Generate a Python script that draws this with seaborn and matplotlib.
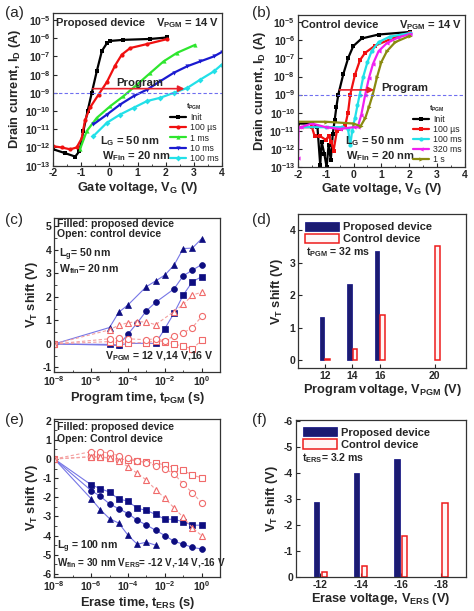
import numpy as np
import pandas as pd
import matplotlib
matplotlib.use('Agg')
import matplotlib.pyplot as plt
import seaborn as sns
from matplotlib.ticker import MultipleLocator, FixedLocator, NullFormatter

# ---------------- data ----------------
# (a) proposed device, Id-Vg after programming (log10 of current)
a_init_v = [-2.0, -1.6, -1.22, -1.07, -0.93, -0.78, -0.63, -0.45, -0.27, -0.09, 0.03, 0.5, 1.46, 2.05]
a_init_logI = [-12.1, -12.3, -12.5, -12.2, -11.1, -10.0, -9.0, -7.8, -6.7, -6.27, -6.15, -6.09, -6.04, -5.96]
a_100us_v = [-2.0, -1.7, -1.4, -1.17, -0.99, -0.87, -0.69, -0.39, -0.09, 0.2, 0.44, 0.74, 1.34, 2.05]
a_100us_logI = [-11.93, -12.0, -12.1, -12.0, -11.5, -10.5, -9.8, -9.1, -8.4, -7.5, -6.9, -6.54, -6.32, -6.05]
a_1ms_v = [-1.05, -0.81, -0.45, 0.03, 0.5, 0.98, 1.46, 1.93, 2.41, 3.06]
a_1ms_logI = [-12.1, -11.1, -10.37, -9.73, -9.18, -8.55, -7.9, -7.27, -6.8, -6.36]
a_10ms_v = [-0.57, -0.09, 0.38, 0.86, 1.34, 1.81, 2.29, 2.77, 3.24, 3.72, 4.0]
a_10ms_logI = [-10.73, -10.19, -9.64, -9.18, -8.82, -8.36, -7.9, -7.54, -7.27, -7.0, -6.76]
a_100ms_v = [-0.57, -0.09, 0.38, 0.86, 1.34, 1.81, 2.29, 2.77, 3.24, 3.72, 4.0]
a_100ms_logI = [-11.37, -10.64, -10.19, -9.82, -9.45, -9.27, -9.0, -8.73, -8.27, -7.82, -7.45]

# (b) control device
b_init_v = [-2.0, -1.5, -1.3, -1.2, -1.15, -1.05, -0.97, -0.9, -0.82, -0.75, -0.68, -0.62, -0.55,
            -0.37, -0.19, -0.01, 0.29, 0.9, 2.03]
b_init_logI = [-10.6, -10.6, -10.8, -12.9, -11.6, -12.3, -13.0, -11.8, -12.6, -11.2, -10.4, -9.7, -9.0,
               -7.87, -6.96, -6.32, -5.9, -5.68, -5.54]
b_100us_v = [-2.0, -1.5, -1.4, -1.2, -1.0, -0.9, -0.8, -0.72, -0.6, -0.45, -0.3, -0.2, -0.12,
             0.05, 0.23, 0.41, 0.77, 1.49, 2.03]
b_100us_logI = [-10.8, -10.8, -11.3, -11.3, -11.5, -11.3, -11.6, -12.1, -11.0, -10.9, -10.7, -10.0, -9.0,
                -7.9, -7.1, -6.7, -6.3, -5.83, -5.6]
b_100ms_v = [-2.0, -1.0, -0.4, -0.2, -0.12, -0.05, 0.05, 0.14, 0.22, 0.35, 0.5, 0.65, 0.9, 1.3, 2.03]
b_100ms_logI = [-10.8, -10.8, -10.8, -10.9, -11.8, -11.0, -10.3, -9.6, -9.0, -8.0, -7.2, -6.6, -6.1, -5.8, -5.6]
b_320ms_v = [-2.0, -1.98, -1.9, -1.5, -1.0, -0.5, 0.0, 0.15, 0.28, 0.42, 0.55, 0.7, 0.9, 1.2, 1.6, 2.03]
b_320ms_logI = [-12.5, -10.8, -10.8, -10.6, -10.8, -10.9, -10.8, -10.8, -10.1, -9.0, -8.1, -7.3, -6.6, -6.15, -5.85, -5.65]
b_1s_v = [-2.0, -1.0, 0.0, 0.25, 0.42, 0.55, 0.69, 0.85, 1.0, 1.2, 1.5, 2.03]
b_1s_logI = [-10.5, -10.5, -10.6, -10.75, -10.3, -9.7, -9.0, -8.0, -7.2, -6.6, -6.1, -5.75]

# (c) VT shift vs program time (log10 of time), NaN = no point
c_log_t = [-8, -5, -4.5, -4, -3.5, -3, -2.5, -2, -1.5, -1, -0.5, 0]
c_prop_12 = [0, -0.02, -0.05, 0.02, np.nan, 0.03, 0.02, 0.65, 1.31, 2.08, 2.65, 2.86]
c_prop_14 = [0, np.nan, -0.06, 0.42, 0.89, 1.41, 1.77, np.nan, 2.34, 2.9, 3.14, 3.38]
c_prop_16 = [0, 0.70, 1.35, 1.66, np.nan, 2.44, 2.68, 2.93, 3.35, 4.06, 4.08, 4.48]
c_ctrl_12 = [0, 0.1, 0.05, 0.05, np.nan, 0.06, 0.13, 0.1, 0.0, -0.1, -0.2, 0.15]
c_ctrl_14 = [0, 0.22, 0.25, 0.22, np.nan, 0.18, 0.22, 0.12, 0.35, 0.47, 0.7, 1.17]
c_ctrl_16 = [0, 0.6, 0.8, 0.9, 0.95, 0.93, 0.82, np.nan, 1.38, 1.68, 2.08, 2.2]

# (d) VT shift vs program voltage, tPGM = 32 ms
d_voltage = [12, 14, 16, 20]
d_proposed = [1.34, 2.35, 3.35, np.nan]
d_control = [0.03, 0.35, 1.4, 3.52]

# (e) VT shift vs erase time
e_log_t = [-8, -6, -5.5, -5, -4.5, -4, -3.5, -3, -2.5, -2, -1.5, -1, -0.5, 0]
e_prop_12 = [0, -1.35, -1.55, -1.73, -2.1, -2.2, -2.58, -2.68, -2.9, -3.15, -3.15, -3.28, -3.46, -3.46]
e_prop_14 = [0, -1.65, -1.95, -2.35, -2.6, -2.85, -3.2, -3.45, -3.72, -4.0, -4.3, -4.45, -4.62, -4.7]
e_prop_16 = [0, -2.08, -2.65, -3.12, -3.35, -3.98, -4.45, -4.35, -4.5] + [np.nan] * 5
e_ctrl_12 = [0, 0.12, 0.12, 0.05, 0.0, -0.05, -0.1, -0.18, -0.22, -0.3, -0.45, -0.6, -0.85, -0.98]
e_ctrl_14 = [0, 0.38, 0.38, 0.3, 0.17, 0.05, -0.09, -0.2, -0.35, -0.52, -0.78, -1.3, -1.77, -2.29]
e_ctrl_16 = [0, 0.1, 0.08, 0.05, -0.1, -0.4, -0.75, -1.1, -1.6, -2.05, -2.55, -3.05, -3.6, -4.0]

# (f) VT shift vs erase voltage, tERS = 3.2 ms
f_voltage = [-12, -14, -16, -18]
f_proposed = [-2.88, -4.03, -4.54, np.nan]
f_control = [-0.22, -0.45, -1.6, -2.84]

# ---------------- style ----------------
sns.set_style('ticks')
plt.rcParams['font.family'] = ['Liberation Sans', 'DejaVu Sans']
plt.rcParams['font.weight'] = 'bold'
plt.rcParams['axes.labelweight'] = 'bold'
plt.rcParams['mathtext.default'] = 'regular'
plt.rcParams['axes.unicode_minus'] = False
plt.rcParams['xtick.direction'] = 'in'
plt.rcParams['ytick.direction'] = 'in'
plt.rcParams['axes.linewidth'] = 0.9
plt.rcParams['axes.edgecolor'] = '#333333'

NAVY = '#0d0d80'
LBLUE = '#7676e6'
PINK = '#f06a6a'
LPINK = '#f4a0a0'
LAB = 9.2
TICK = 7.5
TXT = 7.6

fig = plt.figure(figsize=(4.74, 6.11), dpi=100)
ax_a = fig.add_axes([0.1125, 0.7288, 0.3553, 0.2504])
ax_b = fig.add_axes([0.6287, 0.7267, 0.3517, 0.2488])
ax_c = fig.add_axes([0.1146, 0.3917, 0.3496, 0.2511])
ax_d = fig.add_axes([0.6287, 0.3972, 0.3551, 0.2520])
ax_e = fig.add_axes([0.1146, 0.0561, 0.3496, 0.2586])
ax_f = fig.add_axes([0.6245, 0.0552, 0.3586, 0.2574])

for ax in [ax_a, ax_b, ax_c, ax_d, ax_e, ax_f]:
    ax.tick_params(labelsize=TICK, length=3, width=0.8, pad=2)
    ax.tick_params(which='minor', length=1.8, width=0.6)


def iv_panel(ax, series, dev_txt, arrow_x, arrow_y, prog_x, prog_y, lg_x, lg_y):
    for lab, v, lg, col, mk in series:
        sns.lineplot(x=v, y=10.0 ** np.array(lg), ax=ax, color=col, marker=mk, markersize=3,
                     markeredgewidth=0, linewidth=1.6, label=lab, sort=False, errorbar=None)
    ax.set_yscale('log')
    ax.set_ylim(1e-13, 10 ** -4.6)
    ax.set_xlim(-2, 4)
    ax.set_yticks(10.0 ** np.arange(-13, -4))
    ax.yaxis.set_minor_locator(FixedLocator([]))
    ax.xaxis.set_major_locator(MultipleLocator(1))
    ax.xaxis.set_minor_locator(MultipleLocator(0.5))
    ax.axhline(1e-9, color='#6f6ff0', ls=(0, (3, 2)), lw=0.8)
    ax.annotate('', xy=(arrow_x[1], 10 ** arrow_y), xytext=(arrow_x[0], 10 ** arrow_y),
                arrowprops=dict(arrowstyle='-|>', color='#e8202a', lw=1.2, mutation_scale=9))
    ax.text(prog_x, 10 ** prog_y, 'Program', fontsize=TXT + 0.6, ha='left', va='center')
    ax.text(0.016, 0.935, dev_txt, transform=ax.transAxes, fontsize=TXT + 0.4, va='center')
    ax.text(0.985, 0.935, r'V$_{PGM}$ = 14 V', transform=ax.transAxes, fontsize=TXT + 0.4,
            va='center', ha='right')
    ax.text(lg_x, lg_y, r'L$_G$ = 50 nm', transform=ax.transAxes, fontsize=TXT + 0.4, va='center')
    ax.text(lg_x + 0.01, lg_y - 0.1, r'W$_{Fin}$ = 20 nm', transform=ax.transAxes,
            fontsize=TXT + 0.4, va='center')
    leg = ax.legend(title=r't$_{PGM}$', loc='lower right', frameon=False, fontsize=6.3,
                    title_fontsize=5.2, handlelength=1.9, handletextpad=0.4, labelspacing=0.12,
                    borderaxespad=0.15, borderpad=0.2)
    for t in leg.get_texts():
        t.set_fontweight('normal')
    ax.set_xlabel(r'Gate voltage, V$_G$ (V)', fontsize=LAB, labelpad=1)
    ax.set_ylabel(r'Drain current, I$_D$ (A)', fontsize=LAB, labelpad=1)


iv_panel(ax_a,
         [('Init', a_init_v, a_init_logI, 'black', 's'),
          ('100 µs', a_100us_v, a_100us_logI, '#f01010', 'o'),
          ('1 ms', a_1ms_v, a_1ms_logI, '#2ee62e', '^'),
          ('10 ms', a_10ms_v, a_10ms_logI, '#1a1ad0', 'v'),
          ('100 ms', a_100ms_v, a_100ms_logI, '#22e0e8', 'D')],
         'Proposed device', (-0.69, 2.77), -8.77, 0.25, -8.45, 0.28, 0.16)
iv_panel(ax_b,
         [('Init', b_init_v, b_init_logI, 'black', 's'),
          ('100 µs', b_100us_v, b_100us_logI, '#f01010', 's'),
          ('100 ms', b_100ms_v, b_100ms_logI, '#22e0e8', 'o'),
          ('320 ms', b_320ms_v, b_320ms_logI, '#f020f0', '<'),
          ('1 s', b_1s_v, b_1s_logI, '#8a8a10', '>')],
         'Control device', (-0.6, 0.84), -8.74, 0.99, -8.64, 0.28, 0.17)


def vt_time_panel(ax, log_t, filled, opened, xlabel, ylim, yticks):
    t = 10.0 ** np.array(log_t, dtype=float)
    for vals, mk in filled:
        y = np.array(vals, dtype=float)
        ok = ~np.isnan(y)
        sns.lineplot(x=t[ok], y=y[ok], ax=ax, color=LBLUE, linewidth=0.8, marker=mk,
                     markersize=4.2, markerfacecolor=NAVY, markeredgecolor=NAVY,
                     markeredgewidth=0.5, sort=False, errorbar=None)
    for vals, mk in opened:
        y = np.array(vals, dtype=float)
        ok = ~np.isnan(y)
        sns.lineplot(x=t[ok], y=y[ok], ax=ax, color=LPINK, linewidth=0.8, linestyle=(0, (3, 2)),
                     marker=mk, markersize=4.4, markerfacecolor='white', markeredgecolor=PINK,
                     markeredgewidth=0.8, sort=False, errorbar=None)
    ax.set_xscale('log')
    ax.set_xlim(1e-8, 1e1)
    ax.set_ylim(*ylim)
    ax.set_xticks([1e-8, 1e-6, 1e-4, 1e-2, 1e0])
    ax.xaxis.set_minor_locator(FixedLocator(10.0 ** np.arange(-8, 2)))
    ax.xaxis.set_minor_formatter(NullFormatter())
    ax.set_yticks(yticks)
    ax.yaxis.set_minor_locator(MultipleLocator(0.5))
    ax.set_xlabel(xlabel, fontsize=LAB, labelpad=1)
    ax.set_ylabel(r'V$_T$ shift (V)', fontsize=LAB, labelpad=2)


vt_time_panel(ax_c, c_log_t,
              [(c_prop_12, 's'), (c_prop_14, 'o'), (c_prop_16, '^')],
              [(c_ctrl_12, 's'), (c_ctrl_14, 'o'), (c_ctrl_16, '^')],
              r'Program time, t$_{PGM}$ (s)', (-1.18, 5.35), np.arange(-1, 6))
ax_c.text(0.018, 0.995, 'Filled: proposed device', transform=ax_c.transAxes, fontsize=TXT, va='top')
ax_c.text(0.018, 0.895, 'Open: control device', transform=ax_c.transAxes, fontsize=TXT, va='center')
ax_c.text(0.03, 0.76, r'L$_g$= 50 nm', transform=ax_c.transAxes, fontsize=TXT, va='center')
ax_c.text(0.03, 0.668, r'W$_{fin}$= 20 nm', transform=ax_c.transAxes, fontsize=TXT, va='center')
ax_c.text(0.306, 0.098, r'V$_{PGM}$ = 12 V,14 V,16 V', transform=ax_c.transAxes, fontsize=TXT,
          va='center')

vt_time_panel(ax_e, e_log_t,
              [(e_prop_12, 's'), (e_prop_14, 'o'), (e_prop_16, '^')],
              [(e_ctrl_12, 's'), (e_ctrl_14, 'o'), (e_ctrl_16, '^')],
              r'Erase time, t$_{ERS}$ (s)', (-6.15, 2.1), np.arange(-6, 3))
ax_e.text(0.014, 0.947, 'Filled: proposed device', transform=ax_e.transAxes, fontsize=TXT, va='center')
ax_e.text(0.014, 0.869, 'Open: Control device', transform=ax_e.transAxes, fontsize=TXT, va='center')
ax_e.text(0.014, 0.19, r'L$_g$ = 100 nm', transform=ax_e.transAxes, fontsize=TXT, va='center')
ax_e.text(0.014, 0.085, r'W$_{fin}$ = 30 nm V$_{ERS}$= -12 V,-14 V,-16 V', transform=ax_e.transAxes,
          fontsize=TXT - 0.5, va='center')


def bar_panel(ax, xpos, proposed, control, width, gap):
    df = pd.DataFrame({'x': list(xpos) * 2,
                       'shift': list(proposed) + list(control),
                       'device': ['Proposed device'] * len(xpos) + ['Control device'] * len(xpos)})
    df = df.dropna()
    sns.barplot(data=df, x='x', y='shift', hue='device',
                hue_order=['Proposed device', 'Control device'],
                palette=[NAVY, '#fff6f6'], native_scale=True, width=width, gap=gap,
                errorbar=None, ax=ax, legend=False)
    prop_c, ctrl_c = ax.containers[0], ax.containers[1]
    for p in prop_c:
        p.set_edgecolor(NAVY)
        p.set_linewidth(0.5)
    for p in ctrl_c:
        p.set_facecolor('#fff6f6')
        p.set_edgecolor('#ee1c1c')
        p.set_linewidth(1.1)
    ax.legend([prop_c, ctrl_c], ['Proposed device', 'Control device'], loc='upper left',
              frameon=False, fontsize=TXT + 0.4, handlelength=3.0, handleheight=0.9,
              handletextpad=0.4, labelspacing=0.15, borderaxespad=0.25)


bar_panel(ax_d, d_voltage, d_proposed, d_control, 0.4, 0.18)
ax_d.set_xlim(10.05, 22.3)
ax_d.set_ylim(-0.25, 4.48)
ax_d.set_xticks(d_voltage)
ax_d.set_yticks(np.arange(0, 5))
ax_d.set_xlabel(r'Program voltage, V$_{PGM}$ (V)', fontsize=LAB, labelpad=1)
ax_d.set_ylabel(r'V$_T$ shift (V)', fontsize=LAB, labelpad=3)
ax_d.text(0.05, 0.753, r't$_{PGM}$ = 32 ms', transform=ax_d.transAxes, fontsize=TXT, va='center')

f_pos = [-v for v in f_voltage]
bar_panel(ax_f, f_pos, f_proposed, f_control, 0.39, 0.3)
ax_f.set_xlim(10.78, 19.25)
ax_f.set_ylim(0, -6.05)
ax_f.set_xticks(f_pos)
ax_f.set_xticklabels([str(v) for v in f_voltage])
ax_f.set_yticks(np.arange(0, -7, -1))
ax_f.set_xlabel(r'Erase voltage, V$_{ERS}$ (V)', fontsize=LAB, labelpad=1)
ax_f.set_ylabel(r'V$_T$ shift (V)', fontsize=LAB, labelpad=3)
ax_f.text(0.035, 0.76, r't$_{ERS}$= 3.2 ms', transform=ax_f.transAxes, fontsize=TXT, va='center')

for ax in [ax_a, ax_b, ax_c, ax_d, ax_e, ax_f]:
    for lab in ax.get_xticklabels() + ax.get_yticklabels():
        lab.set_fontweight('bold')

# panel letters
for letter, x, y in [('(a)', 0.011, 0.978), ('(b)', 0.532, 0.978), ('(c)', 0.011, 0.64),
                     ('(d)', 0.532, 0.64), ('(e)', 0.011, 0.3126), ('(f)', 0.532, 0.3126)]:
    fig.text(x, y, letter, fontsize=11, fontweight='normal', va='center', ha='left')

fig.savefig('out.png', dpi=100)
